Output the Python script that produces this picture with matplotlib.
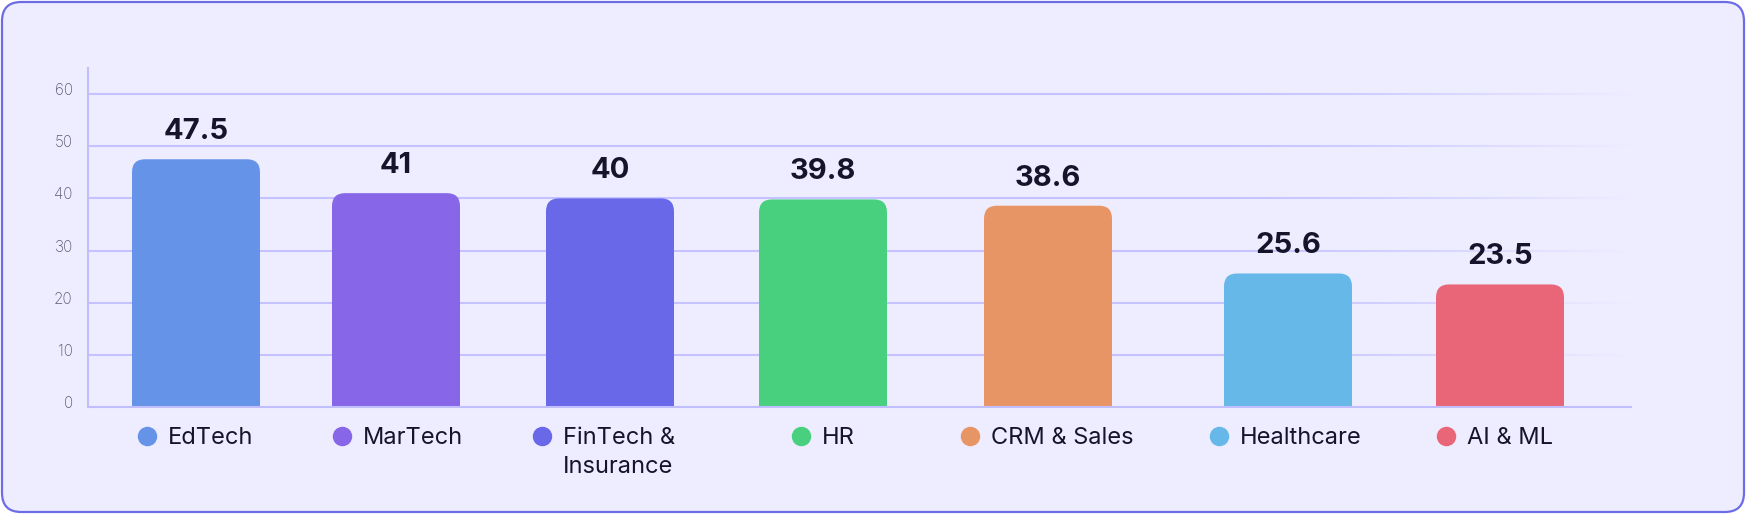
import matplotlib
matplotlib.use("Agg")
import matplotlib.pyplot as plt
import matplotlib.transforms as mtransforms
from matplotlib.patches import FancyBboxPatch
import numpy as np

categories = ["EdTech", "MarTech", "FinTech &\nInsurance", "HR", "CRM & Sales", "Healthcare", "AI & ML"]
values = [47.5, 41, 40, 39.8, 38.6, 25.6, 23.5]
value_labels = ["47.5", "41", "40", "39.8", "38.6", "25.6", "23.5"]
colors = ["#6593e8", "#8866e8", "#6868e8", "#48d07e", "#e89566", "#66b8e8", "#e86677"]
yticks = [0, 10, 20, 30, 40, 50, 60]

# layout (bar centres follow the uneven spacing of the original)
bar_pos = [0.0, 1.0, 2.07, 3.135, 4.26, 5.46, 6.52]
legend_px = [147, 342, 542, 801, 970, 1219, 1446]

W, H = 1746, 514
BG = "#eeedff"
GRID = "#c4c2ff"
plt.rcParams["font.family"] = ["Inter", "DejaVu Sans"]

fig = plt.figure(figsize=(W / 100, H / 100), dpi=100, facecolor="white")
frame = FancyBboxPatch((2 / W, 2 / H), 1 - 4 / W, 1 - 4 / H,
                       boxstyle="round,pad=0,rounding_size=0.011",
                       mutation_aspect=W / H,
                       transform=fig.transFigure, facecolor=BG,
                       edgecolor="#6c6ce6", linewidth=1.6, zorder=-10)
fig.patches.append(frame)

ax_l, ax_r = 88, 1631
ax_top, ax_bot = 68, 407
ax = fig.add_axes([ax_l / W, (H - ax_bot) / H, (ax_r - ax_l) / W, (ax_bot - ax_top) / H])
ax.set_facecolor("none")
xmin = -0.54
xmax = xmin + (ax_r - ax_l) / 200

# gridlines
for t in yticks[1:]:
    ax.axhline(t, color=GRID, linewidth=1.5, zorder=0.5)

# fade the gridlines toward the right
fade_x0 = xmin + (1200 - ax_l) / 200
grad = np.zeros((2, 256, 4))
grad[..., :3] = matplotlib.colors.to_rgb(BG)
grad[..., 3] = np.linspace(0, 1, 256) ** 1.3
ax.imshow(grad, extent=(fade_x0, xmax, 0.5, 65), aspect="auto", zorder=0.8,
          interpolation="bilinear")
ax.set_xlim(xmin, xmax)
ax.set_ylim(0, 65)

# bars with rounded top corners
bw = 0.64
px_x = 1 / 200          # data units per pixel in x
px_y = 65 / (ax_bot - ax_top)
r = 13 * px_x
for xp, v, lbl, c in zip(bar_pos, values, value_labels, colors):
    p = FancyBboxPatch((xp - bw / 2, -5), bw, v + 5,
                       boxstyle=f"round,pad=0,rounding_size={r}",
                       mutation_aspect=px_y / px_x,
                       facecolor=c, edgecolor="none", zorder=2)
    ax.add_patch(p)
    ax.text(xp, v + 14 * px_y, lbl, ha="center", va="bottom", fontsize=21,
            fontweight="bold", color="#15142b", zorder=3)

# spines
for s in ["top", "right"]:
    ax.spines[s].set_visible(False)
for s in ["left", "bottom"]:
    ax.spines[s].set_color("#c0beff")
    ax.spines[s].set_linewidth(1.5)
    ax.spines[s].set_zorder(3)
ax.set_xticks([])
ax.set_yticks(yticks)
ax.tick_params(axis="y", length=0, pad=11, labelsize=11, labelcolor="#5a5a72")
shift = mtransforms.ScaledTranslation(0, 5 / 100, fig.dpi_scale_trans)
for lab in ax.get_yticklabels():
    lab.set_transform(lab.get_transform() + shift)
    lab.set_fontweight("light")

# legend row
for px, name, c in zip(legend_px, categories, colors):
    fy = (H - 436) / H
    ax.plot([px / W], [fy], "o", markersize=13, color=c, transform=fig.transFigure,
            clip_on=False, zorder=5)
    fig.text((px + 21) / W, (H - 427) / H, name, ha="left", va="top",
             fontsize=17, color="#15142b", linespacing=1.4)

fig.savefig("out.png", dpi=100, facecolor="white")
